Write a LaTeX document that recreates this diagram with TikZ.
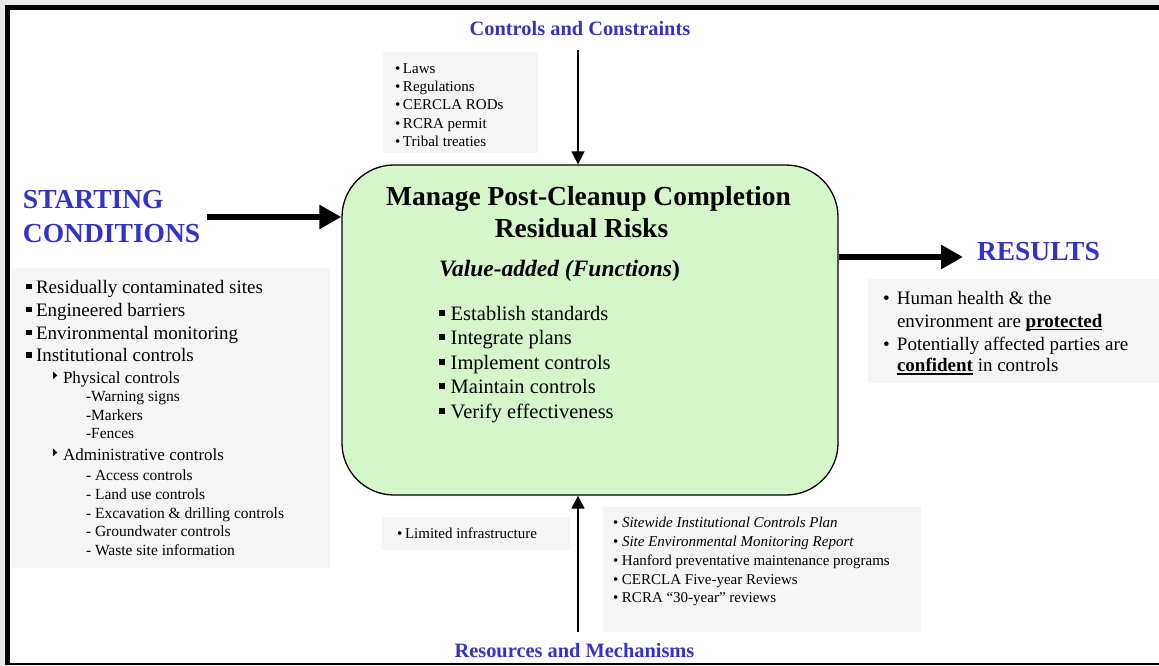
\documentclass[tikz,border=0pt]{standalone}
\usepackage{fontspec}
\setmainfont{Liberation Serif}
\usetikzlibrary{arrows.meta,calc}

\definecolor{headblue}{RGB}{51,51,204}
\definecolor{boxgreen}{RGB}{213,246,201}
\definecolor{boxgray}{RGB}{245,245,245}
\definecolor{edgegray}{RGB}{232,232,232}

% font size helper and bullet helpers
\newcommand\setfs[1]{\fontsize{#1}{#1}\selectfont}
\newcommand\sqbul{\rule[0.21em]{0.29em}{0.29em}}
\newcommand\bulbox[2]{\makebox[#1][l]{#2}}
\newcommand\ulbold[1]{\setbox0\hbox{\bfseries #1}\rlap{\rule[-3.4pt]{\wd0}{1.9pt}}\box0\relax}

\begin{document}
\begin{tikzpicture}[x=1pt,y=-1pt,
  txt/.style={anchor=base west,inner sep=0pt,outer sep=0pt},
  ctxt/.style={anchor=base,inner sep=0pt,outer sep=0pt},
  heading/.style={ctxt,text=headblue,font=\setfs{20.4}\bfseries},
  bigheading/.style={txt,text=headblue,font=\setfs{27.5}\bfseries},
  graybox/.style={fill=boxgray,draw=none,inner sep=0pt,outer sep=0pt,anchor=north west},
  fatarrow/.style={line width=6pt,-{Triangle[length=22pt,width=23pt]}},
  thinarrow/.style={line width=1.5pt,-{Triangle[length=13pt,width=13pt]}},
  mainitem/.style={txt,font=\setfs{19}},
  subitem/.style={txt,font=\setfs{17}},
  subsubitem/.style={txt,font=\setfs{15.5}},
  smallitem/.style={txt,font=\setfs{15}},
]
\useasboundingbox (0,0) rectangle (1159,666);

% page edge and frame
\fill[edgegray] (0,0) rectangle (1159,666);
\fill[white] (7.5,7.5) rectangle (1159,663.8);
\draw[line width=5pt] (5,7.5) -- (1159,7.5);
\draw[line width=5pt] (7.5,5) -- (7.5,665);
\draw[line width=2.5pt] (7.5,663.8) -- (1159,663.8);

% gray text panels
\node[graybox,minimum width=155pt,minimum height=101pt] (ccbox) at (383,52) {};
\node[graybox,minimum width=318pt,minimum height=300pt] (scbox) at (12,268) {};
\node[graybox,minimum width=291pt,minimum height=104pt] (resbox) at (868,279) {};
\node[graybox,minimum width=188pt,minimum height=33pt] (infbox) at (382,517) {};
\node[graybox,minimum width=318pt,minimum height=125pt] (mechbox) at (603,507) {};

% central function box
\node[draw=black,line width=1.3pt,fill=boxgreen,rounded corners=52pt,
      minimum width=496pt,minimum height=330pt,inner sep=0pt] (main) at (590,330) {};

% connectors
\coordinate (cctail) at (578,50);
\coordinate (rmtail) at (578,632);
\coordinate (sctail) at (207,217);
\coordinate (rsy) at (0,257);
\coordinate (rstip) at (963,257);
\draw[thinarrow] (cctail) -- (cctail |- main.north);
\draw[thinarrow] (rmtail) -- (rmtail |- main.south);
\draw[fatarrow] (sctail) -- (sctail -| main.west);
\draw[fatarrow] (main.east |- rsy) -- (rstip);

% headings
\node[heading] (cchead) at (580,35.5) {Controls and Constraints};
\node[heading] (rmhead) at (574.5,657.5) {Resources and Mechanisms};
\node[bigheading] (schead1) at (23,208) {STARTING};
\node[bigheading] (schead2) at (23,242.5) {CONDITIONS};
\node[bigheading] (reshead) at (977,260) {RESULTS};

% controls and constraints
\node[smallitem] (cc1) at (395,73.3) {\bulbox{8pt}{•}Laws};
\node[smallitem] (cc2) at (395,91.6) {\bulbox{8pt}{•}Regulations};
\node[smallitem] (cc3) at (395,110) {\bulbox{8pt}{•}CERCLA RODs};
\node[smallitem] (cc4) at (395,128.3) {\bulbox{8pt}{•}RCRA permit};
\node[smallitem] (cc5) at (395,146.6) {\bulbox{8pt}{•}Tribal treaties};

% starting conditions
\node[mainitem] (sc1) at (26,293) {\bulbox{10pt}{\sqbul}Residually contaminated sites};
\node[mainitem] (sc2) at (26,316) {\bulbox{10pt}{\sqbul}Engineered barriers};
\node[mainitem] (sc3) at (26,339) {\bulbox{10pt}{\sqbul}Environmental monitoring};
\node[mainitem] (sc4) at (26,361.7) {\bulbox{10pt}{\sqbul}Institutional controls};
\node[subitem] (phys) at (63,383) {Physical controls};
\node[subsubitem] (phys1) at (86,401.7) {-Warning signs};
\node[subsubitem] (phys2) at (86,420.5) {-Markers};
\node[subsubitem] (phys3) at (86,438.5) {-Fences};
\node[subitem] (admin) at (63,460) {Administrative controls};
\node[subsubitem] (adm1) at (86,480) {- Access controls};
\node[subsubitem] (adm2) at (86,499.5) {- Land use controls};
\node[subsubitem] (adm3) at (86,518) {- Excavation \& drilling controls};
\node[subsubitem] (adm4) at (86,536.7) {- Groundwater controls};
\node[subsubitem] (adm5) at (86,555) {- Waste site information};
\fill ([shift={(-10,-11.5)}]phys.base west) -- ++(4.2,3.9) -- ++(-4.2,3.9) -- cycle;
\fill ([shift={(-10,-11.5)}]admin.base west) -- ++(4.2,3.9) -- ++(-4.2,3.9) -- cycle;

% function box contents
\node[ctxt,font=\setfs{27.5}\bfseries] (title1) at (588.5,205) {Manage Post-Cleanup Completion};
\node[ctxt,font=\setfs{27.5}\bfseries] (title2) at (581.5,237.7) {Residual Risks};
\node[txt,font=\setfs{23.5}\bfseries] (valadd) at (439,276.7) {\textit{Value-added (Functions})};
\node[txt,font=\setfs{20.5}] (fn1) at (439.3,320) {\bulbox{11.4pt}{\sqbul}Establish standards};
\node[txt,font=\setfs{20.5}] (fn2) at (439.3,344.3) {\bulbox{11.4pt}{\sqbul}Integrate plans};
\node[txt,font=\setfs{20.5}] (fn3) at (439.3,369) {\bulbox{11.4pt}{\sqbul}Implement controls};
\node[txt,font=\setfs{20.5}] (fn4) at (439.3,393.3) {\bulbox{11.4pt}{\sqbul}Maintain controls};
\node[txt,font=\setfs{20.5}] (fn5) at (439.3,418.3) {\bulbox{11.4pt}{\sqbul}Verify effectiveness};

% results
\node[mainitem] (res1) at (883,304) {\bulbox{14pt}{•}Human health \& the};
\node[mainitem] (res2) at (897,327) {environment are \ulbold{protected}};
\node[mainitem] (res3) at (883,350) {\bulbox{14pt}{•}Potentially affected parties are};
\node[mainitem] (res4) at (897,371.7) {\ulbold{confident} in controls};

% resources and mechanisms
\node[smallitem] (inf1) at (397,538) {\bulbox{8pt}{•}Limited infrastructure};
\node[smallitem] (mech1) at (613,527) {\bulbox{9pt}{•}\textit{Sitewide Institutional Controls Plan}};
\node[smallitem] (mech2) at (613,546) {\bulbox{9pt}{•}\textit{Site Environmental Monitoring Report}};
\node[smallitem] (mech3) at (613,565) {\bulbox{9pt}{•}Hanford preventative maintenance programs};
\node[smallitem] (mech4) at (613,584) {\bulbox{9pt}{•}CERCLA Five-year Reviews};
\node[smallitem] (mech5) at (613,602) {\bulbox{9pt}{•}RCRA “30-year” reviews};
\end{tikzpicture}
\end{document}
